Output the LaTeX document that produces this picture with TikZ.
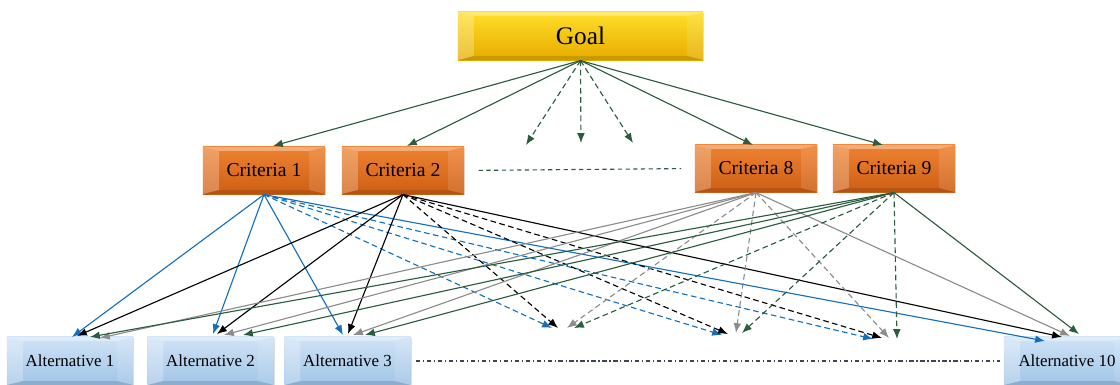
\documentclass[tikz,border=0pt]{standalone}
\usepackage{fontspec}
\setmainfont{Liberation Serif}
\usetikzlibrary{%
	arrows.meta,%
	shadows
}

\definecolor{goalA}{RGB}{255,222,40}
\definecolor{goalB}{RGB}{230,172,0}
\definecolor{critA}{RGB}{238,130,50}
\definecolor{critB}{RGB}{205,95,20}
\definecolor{altA}{RGB}{208,227,246}
\definecolor{altB}{RGB}{160,196,231}
\definecolor{cblue}{RGB}{16,112,190}
\definecolor{cgray}{RGB}{140,140,140}
\definecolor{cgreen}{RGB}{42,92,62}
\definecolor{cslate}{RGB}{60,70,85}

\tikzset{
	bevel/.style={inner sep=0pt,
		drop shadow={opacity=0.25,shadow xshift=1pt,shadow yshift=-1pt},
		path picture={
			\fill[white,opacity=.35] (path picture bounding box.north west) -- (path picture bounding box.north east)
				-- ([xshift=-0.4cm,yshift=-0.1cm]path picture bounding box.north east) -- ([xshift=0.4cm,yshift=-0.1cm]path picture bounding box.north west) -- cycle;
			\fill[white,opacity=.25] (path picture bounding box.north west) -- ([xshift=0.4cm,yshift=-0.1cm]path picture bounding box.north west)
				-- ([xshift=0.4cm,yshift=0.1cm]path picture bounding box.south west) -- (path picture bounding box.south west) -- cycle;
			\fill[white,opacity=.12] (path picture bounding box.north east) -- ([xshift=-0.4cm,yshift=-0.1cm]path picture bounding box.north east)
				-- ([xshift=-0.4cm,yshift=0.1cm]path picture bounding box.south east) -- (path picture bounding box.south east) -- cycle;
			\fill[black,opacity=.12] (path picture bounding box.south west) -- (path picture bounding box.south east)
				-- ([xshift=-0.4cm,yshift=0.1cm]path picture bounding box.south east) -- ([xshift=0.4cm,yshift=0.1cm]path picture bounding box.south west) -- cycle;
		}},
	goalbox/.style={bevel,top color=goalA,bottom color=goalB,minimum width=6.125cm,minimum height=1.2cm,
		font=\fontsize{18}{20}\selectfont},
	critbox/.style={bevel,top color=critA,bottom color=critB,minimum width=3.05cm,minimum height=1.175cm,
		font=\fontsize{14}{16}\selectfont},
	altbox/.style={bevel,top color=altA,bottom color=altB,minimum width=3.15cm,minimum height=1.2cm,
		font=\fontsize{12}{14}\selectfont}
}

\begin{document}
\begin{tikzpicture}[>={Latex[length=7pt,width=5.5pt]},x=0.025cm,y=-0.025cm,line width=0.8pt]
	\useasboundingbox (0,0) rectangle (1120,385);

	% Boxes
	\node[goalbox] (goal) at (580.5,36) {Goal};
	\node[critbox] (c1) at (264,170.5) {Criteria 1};
	\node[critbox] (c2) at (403,170.5) {Criteria 2};
	\node[critbox] (c8) at (756,168.5) {Criteria 8};
	\node[critbox] (c9) at (894,168.5) {Criteria 9};
	\node[altbox] (a1) at (70,361) {Alternative 1};
	\node[altbox] (a2) at (210.5,361) {Alternative 2};
	\node[altbox] (a3) at (347.5,361) {Alternative 3};
	\node[altbox] (a10) at (1067,361) {Alternative 10};

	% Arrow tips
	\foreach \n/\px/\py in {gc1/273/146,gc2/407/146,gc8/753/145,gc9/883/145,
		gd1/526/145,gd2/581/143,gd3/633/143,
		c1a1/72/337,c1a2/213/334,c1a3/343/335,c1a10/1045/341,c1g1/552/328,c1g2/722/335,c1g3/873/339,
		c2a1/77/336,c2a2/217/334,c2a3/348/334,c2a10/1062/337,c2g1/558/328,c2g2/728/334,c2g3/882/338,
		c8a1/100/338,c8a2/224/335,c8a3/353/335,c8a10/1070/336,c8g1/567/328,c8g2/736/333,c8g3/889/338,
		c9a1/90/337,c9a2/243/335,c9a3/365/335,c9a10/1079/334,c9g1/574/328,c9g2/742/333,c9g3/897/339}
	\coordinate (\n) at (\px,\py);

	% Goal to criteria
	\foreach \t in {gc1,gc2,gc8,gc9}
	\draw[->,cgreen] (goal.south) -- (\t);
	\foreach \t in {gd1,gd2,gd3}
	\draw[->,cgreen,dash pattern=on 4pt off 2.5pt] (goal.south) -- (\t);

	% Criteria to alternatives
	\foreach \c/\col in {c1/cblue,c2/black,c8/cgray,c9/cgreen} {
		\foreach \a in {a1,a2,a3,a10}
		\draw[->,\col] (\c.south) -- (\c\a);
		\foreach \g in {g1,g2,g3}
		\draw[->,\col,dash pattern=on 4pt off 2.5pt] (\c.south) -- (\c\g);
	}

	% Gaps
	\draw[cgreen,dash pattern=on 3pt off 2.5pt,shorten <=0.35cm,shorten >=0.33cm] (c2.east) -- (c8.west);
	\draw[cslate,dash pattern=on 3pt off 2pt on 0.8pt off 2pt,shorten <=0.12cm,shorten >=0.08cm] (a3.east) -- (a10.west);
\end{tikzpicture}
\end{document}
